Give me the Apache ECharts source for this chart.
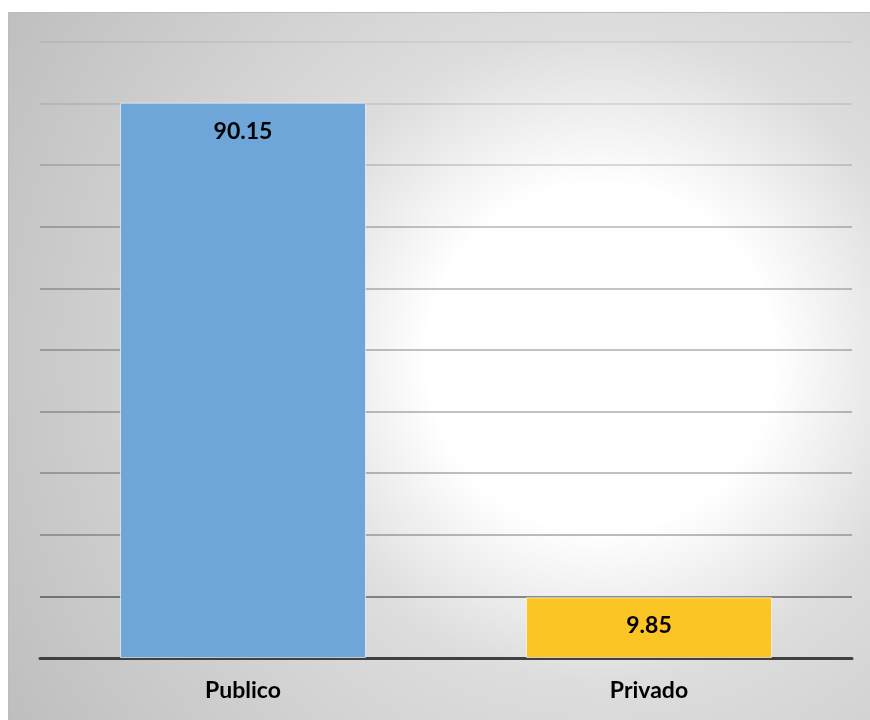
<!DOCTYPE html>
<html>
<head>
<meta charset="utf-8">
<script src="https://cdn.jsdelivr.net/npm/echarts@6/dist/echarts.min.js"></script>
<style>
  html, body { margin: 0; padding: 0; background: #ffffff; }
  #chart { width: 870px; height: 720px; }
</style>
</head>
<body>
<div id="chart"></div>
<script>
// Sector shares (percent)
const categories = ['Publico', 'Privado'];
const values = [90.15, 9.85];
const barColors = ['#6fa6da', '#fcc526'];

const chart = echarts.init(document.getElementById('chart'), null, { renderer: 'canvas' });

chart.setOption({
  animation: false,
  backgroundColor: '#ffffff',
  graphic: {
    elements: [{
      type: 'rect',
      z: -100,
      silent: true,
      shape: { x: 8.5, y: 12.5, width: 870, height: 720 },
      style: {
        fill: {
          type: 'radial',
          x: 0.68, y: 0.48, r: 1.0,
          colorStops: [
            { offset: 0, color: '#ffffff' },
            { offset: 0.24, color: '#ffffff' },
            { offset: 0.45, color: '#dddddd' },
            { offset: 1, color: '#bcbcbc' }
          ]
        },
        stroke: '#bcbcbc',
        lineWidth: 1
      }
    }]
  },
  grid: { left: 40, right: 18, top: 42, bottom: 62, containLabel: false },
  xAxis: {
    type: 'category',
    data: categories,
    axisLine: { show: true, lineStyle: { color: '#404040', width: 3 } },
    axisTick: { show: false },
    axisLabel: {
      margin: 21,
      color: '#000000',
      fontFamily: 'Lato',
      fontWeight: 'bold',
      fontSize: 23
    }
  },
  yAxis: {
    type: 'value',
    min: 0,
    max: 100,
    interval: 10,
    axisLine: { show: false },
    axisTick: { show: false },
    axisLabel: { show: false },
    splitLine: {
      lineStyle: {
        width: 2,
        // gridlines grow darker toward the baseline
        color: {
          type: 'linear', global: true,
          x: 0, y: 42, x2: 0, y2: 658,
          colorStops: [
            { offset: 0, color: 'rgba(0,0,0,0.06)' },
            { offset: 0.15, color: 'rgba(0,0,0,0.1)' },
            { offset: 0.3, color: 'rgba(0,0,0,0.22)' },
            { offset: 0.8, color: 'rgba(0,0,0,0.26)' },
            { offset: 0.9, color: 'rgba(0,0,0,0.42)' },
            { offset: 1, color: 'rgba(0,0,0,0.45)' }
          ]
        }
      }
    }
  },
  series: [{
    type: 'bar',
    barWidth: 246,
    data: values.map((v, i) => ({
      value: v,
      itemStyle: { color: barColors[i] }
    })),
    itemStyle: { borderColor: 'rgba(255,255,255,0.6)', borderWidth: 1 },
    label: {
      show: true,
      position: 'insideTop',
      distance: 17,
      color: '#000000',
      fontFamily: 'Lato',
      fontWeight: 'bold',
      fontSize: 23,
      formatter: p => p.value.toFixed(2)
    }
  }]
});
</script>
</body>
</html>
